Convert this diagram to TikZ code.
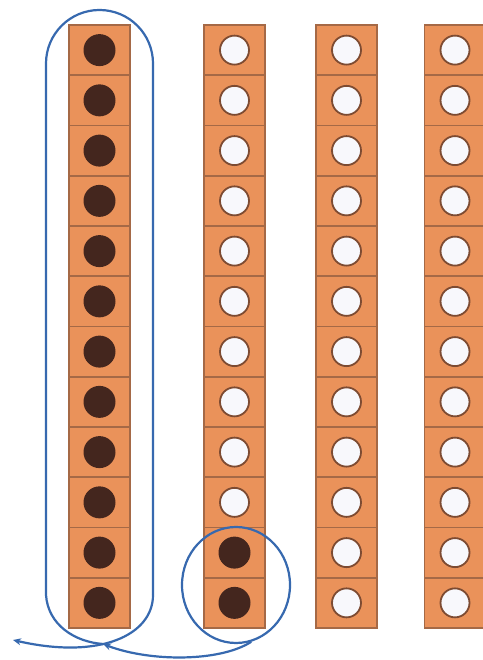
\documentclass[tikz,border=0pt]{standalone}
\usetikzlibrary{arrows.meta,shapes.geometric}
\definecolor{tileor}{RGB}{234,146,90}
\definecolor{tileedge}{RGB}{165,105,70}
\definecolor{dotdark}{RGB}{68,38,30}
\definecolor{dotwhite}{RGB}{248,248,252}
\definecolor{dotring}{RGB}{125,75,50}
\definecolor{penblue}{RGB}{55,105,175}
\begin{document}
\begin{tikzpicture}[x=1pt,y=1pt,
  tile/.style={draw=tileedge, fill=tileor, line width=1.8pt, minimum width=61pt, minimum height=50.25pt, inner sep=0pt},
  fulldot/.style={circle, fill=dotdark, minimum size=32pt, inner sep=0pt},
  emptydot/.style={circle, fill=dotwhite, draw=dotring, line width=1.8pt, minimum size=29pt, inner sep=0pt},
  pen/.style={draw=penblue, line width=2.2pt},
  penarrow/.style={pen, -{Stealth[length=8pt,width=7pt]}}]
\useasboundingbox (0,0) rectangle (482,660);
\fill[white] (0,0) rectangle (482,660);
% columns of tiles
\foreach \col/\cx in {1/99.5, 2/234.5, 3/346.5, 4/455}{
  \foreach \r in {0,...,11}{
    \node[tile] (t-\col-\r) at (\cx, {635-50.25*(\r+0.5)}) {};
  }
}
% counters
\foreach \r in {0,...,11}{
  \node[fulldot] (d-1-\r) at (t-1-\r) {};
  \node[emptydot] (d-3-\r) at (t-3-\r) {};
  \node[emptydot] (d-4-\r) at (t-4-\r) {};
}
\foreach \r in {0,...,9}{
  \node[emptydot] (d-2-\r) at (t-2-\r) {};
}
\node[fulldot] (d-2-10) at (t-2-10) {};
\node[fulldot] (d-2-11) at (t-2-11) {};
% loop round the first column
\coordinate (capL) at (46,65);
\coordinate (capR) at (153,65);
\coordinate (capJoin) at (103,16);
\draw[pen] (capJoin) .. controls (75,18) and (48,35) .. (capL) -- (46,596.5) arc (180:0:53.5) -- (capR);
\coordinate (endA) at (13,20);
\draw[penarrow] (capR) .. controls (153,25) and (100,0) .. (endA);
% ring round the two full counters of column 2
\node[pen, ellipse, minimum width=108pt, minimum height=116pt, inner sep=0pt] (ring) at (236,75) {};
\draw[penarrow] (ring.-75) .. controls (220,-2) and (150,-2) .. (capJoin);
\end{tikzpicture}
\end{document}
